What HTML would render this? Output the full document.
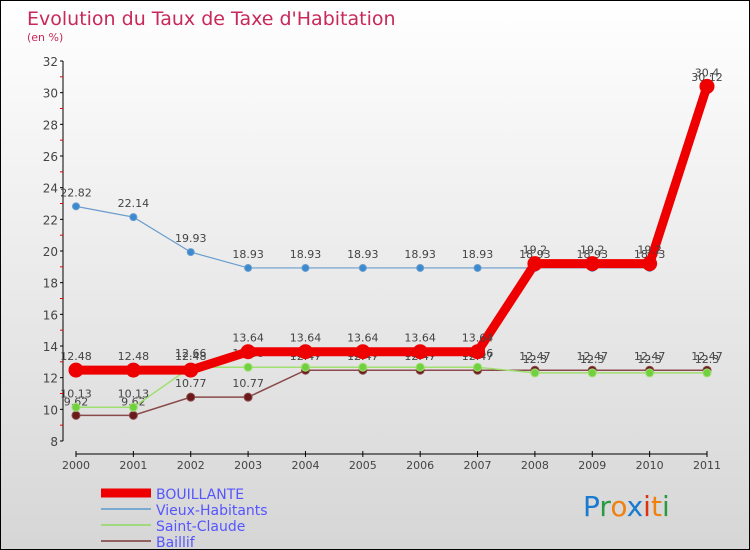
<!DOCTYPE html>
<html><head><meta charset="utf-8"><style>
body{margin:0}
#c{width:750px;height:550px;position:relative;box-sizing:border-box;border:1px solid #000;background:linear-gradient(#fff,#d6d6d6);font-family:"DejaVu Sans","Liberation Sans",sans-serif;overflow:hidden}
</style></head><body>
<div id="c">
<svg id="s" width="750" height="550" style="position:absolute;left:0;top:0">
<text x="26" y="24" font-size="19" fill="#c8285a">Evolution du Taux de Taxe d'Habitation</text>
<text x="26" y="40" font-size="11" fill="#c8285a">(en %)</text>
<g id="ax"></g><g id="ser"></g>
<g>
<line x1="100" y1="492" x2="150" y2="492" stroke="#e00" stroke-width="9"/>
<text x="155" y="498" font-size="14" fill="#55f">BOUILLANTE</text>
<line x1="100" y1="508" x2="150" y2="508" stroke="#5a9ad0" stroke-width="1.5"/>
<text x="155" y="514" font-size="14" fill="#55f">Vieux-Habitants</text>
<line x1="100" y1="524" x2="150" y2="524" stroke="#8fd860" stroke-width="1.5"/>
<text x="155" y="530" font-size="14" fill="#55f">Saint-Claude</text>
<line x1="100" y1="540" x2="150" y2="540" stroke="#7a3a3a" stroke-width="1.5"/>
<text x="155" y="546" font-size="14" fill="#55f">Baillif</text>
</g>
<g font-size="28" font-family="'DejaVu Sans',sans-serif">
<text x="582" y="515"><tspan fill="#1a7ad0">P</tspan><tspan fill="#2a9a40">r</tspan><tspan fill="#f08010">o</tspan><tspan fill="#1a7ad0">x</tspan><tspan fill="#e03010">i</tspan><tspan fill="#f08010">t</tspan><tspan fill="#2a9a40">i</tspan></text>
</g>
</svg>
</div>
<script>
const years=["2000","2001","2002","2003","2004","2005","2006","2007","2008","2009","2010","2011"];
const yTicks=[8,10,12,14,16,18,20,22,24,26,28,30,32];
const bouillante=[12.48,12.48,12.48,13.64,13.64,13.64,13.64,13.64,19.2,19.2,19.2,30.4];
const vieux=[22.82,22.14,19.93,18.93,18.93,18.93,18.93,18.93,18.93,18.93,18.93,30.12];
const stclaude=[10.13,10.13,12.66,12.66,12.66,12.66,12.66,12.66,12.3,12.3,12.3,12.3];
const baillif=[9.62,9.62,10.77,10.77,12.47,12.47,12.47,12.47,12.47,12.47,12.47,12.47];
const NS="http://www.w3.org/2000/svg";
const X=i=>75+i*(706-75)/(years.length-1);
const Y=v=>440-(v-8)*(380/24);
function mk(t,a,p){const e=document.createElementNS(NS,t);for(const k in a)e.setAttribute(k,a[k]);p.appendChild(e);return e;}
const ax=document.getElementById('ax');
mk('line',{x1:62,y1:Y(32),x2:62,y2:Y(8),stroke:'#000'},ax);
mk('line',{x1:75,y1:453,x2:706,y2:453,stroke:'#000'},ax);
yTicks.forEach(v=>{mk('line',{x1:59,y1:Y(v),x2:62,y2:Y(v),stroke:'#000'},ax);
 if(v<32)mk('line',{x1:59,y1:Y(v+1),x2:62,y2:Y(v+1),stroke:'#e00'},ax);
 const t=mk('text',{x:57,y:Y(v)+5,'text-anchor':'end','font-size':12,fill:'#444'},ax);t.textContent=v;
 
 });
years.forEach((y,i)=>{mk('line',{x1:X(i),y1:450,x2:X(i),y2:456,stroke:'#000'},ax);
 const t=mk('text',{x:X(i),y:468,'text-anchor':'middle','font-size':11,fill:'#444'},ax);t.textContent=y;
 
 });
const ser=document.getElementById('ser');
function series(d,name,col,w,r,mc){
 const g=mk('g',{},ser);
 
 
 mk('polyline',{points:d.map((v,i)=>X(i)+','+Y(v)).join(' '),fill:'none',stroke:col,'stroke-width':w},g);
 d.forEach((v,i)=>{const c=mk('circle',{cx:X(i),cy:Y(v),r:r,fill:mc,stroke:col,'stroke-width':1},g);
  
  
  const t=mk('text',{x:X(i),y:Y(v)-10,'text-anchor':'middle','font-size':11,fill:'#444'},g);t.textContent=v;
  
  });
}
series(baillif,'baillif-series','#8a4a4a',1.5,4,'#6a1a1a');
series(stclaude,'saint-claude-series','#a0e070',1.5,4,'#70d040');
series(vieux,'vieux-habitants-series','#6a9ccc',1.2,3.5,'#3a8ad0');
series(bouillante,'bouillante-series','#e00',9,7,'#e00');
</script>
</body></html>
